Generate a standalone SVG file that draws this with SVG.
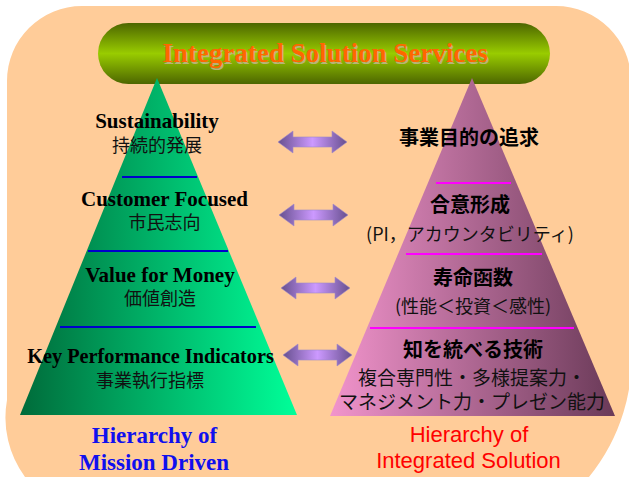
<svg xmlns="http://www.w3.org/2000/svg" width="629" height="477" viewBox="0 0 629 477">
  <defs>
    <linearGradient id="bannerGrad" x1="0" y1="0" x2="0" y2="1">
      <stop offset="0" stop-color="#4D6600"/>
      <stop offset="0.5" stop-color="#99CC00"/>
      <stop offset="1" stop-color="#4D6600"/>
    </linearGradient>
    <linearGradient id="greenGrad" x1="0" y1="0" x2="1" y2="0">
      <stop offset="0" stop-color="#006B3A"/>
      <stop offset="1" stop-color="#00FF99"/>
    </linearGradient>
    <linearGradient id="pinkGrad" x1="0" y1="0" x2="1" y2="0">
      <stop offset="0" stop-color="#F294CC"/>
      <stop offset="1" stop-color="#6A3A58"/>
    </linearGradient>
    <linearGradient id="arrowGrad" x1="0" y1="0" x2="1" y2="0">
      <stop offset="0" stop-color="#67508F"/>
      <stop offset="0.5" stop-color="#CC99FF"/>
      <stop offset="1" stop-color="#67508F"/>
    </linearGradient>
    <path id="dblArrow" d="M0,0 L15,-11 L15,-5 L54,-5 L54,-11 L69,0 L54,11 L54,5 L15,5 L15,11 Z"/>
  </defs>
  <style>
    .serifB { font-family: "Liberation Serif", "Times New Roman", serif; font-weight: bold; text-anchor: middle; }
    .jp { font-family: "Noto Sans CJK JP", "Noto Sans", sans-serif; text-anchor: middle; fill: #111; }
    .jpB { font-family: "Noto Sans CJK JP", "Noto Sans", sans-serif; font-weight: bold; text-anchor: middle; fill: #000; }
    .en { font-size: 21px; fill: #000; }
    .cap-red { font-family: "Liberation Sans", Arial, sans-serif; font-size: 22px; fill: #FF0000; text-anchor: middle; }
    .sep-blue { stroke: #0000CC; stroke-width: 2; }
    .sep-mag { stroke: #FF00FF; stroke-width: 2; }
    .arrow { fill: url(#arrowGrad); stroke: #A08CC8; stroke-width: 0.6; }
  </style>

  <!-- page background -->
  <path d="M82,6 H556 A75,75 0 0 1 631,81 V340 A190,190 0 0 1 589,477 V480 H25 V477 A100,100 0 0 1 7,400 V81 A75,75 0 0 1 82,6 Z" fill="#FFCC99"/>

  <!-- top banner -->
  <g id="banner">
    <rect x="98" y="23" width="452" height="61" rx="30.5" ry="30.5" fill="url(#bannerGrad)"/>
    <text x="326.5" y="63.5" class="serifB" font-size="27" fill="#C8B496" opacity="0.8">Integrated Solution Services</text>
    <text x="325" y="62" class="serifB" font-size="27" fill="#FF6600">Integrated Solution Services</text>
  </g>

  <!-- left pyramid -->
  <g id="mission-pyramid">
    <polygon points="157,78 20,415 297,415" fill="url(#greenGrad)"/>
    <line x1="122" y1="177" x2="197" y2="177" class="sep-blue"/>
    <line x1="88" y1="251" x2="228" y2="251" class="sep-blue"/>
    <line x1="60" y1="327" x2="256" y2="327" class="sep-blue"/>
  </g>
  <g id="sustainability">
    <text x="157" y="128" class="serifB en">Sustainability</text>
    <text x="157" y="152" class="jp" font-size="18">持続的発展</text>
  </g>
  <g id="customer-focused">
    <text x="164.5" y="206" class="serifB en">Customer Focused</text>
    <text x="164.5" y="229" class="jp" font-size="18">市民志向</text>
  </g>
  <g id="value-for-money">
    <text x="160" y="282" class="serifB en">Value for Money</text>
    <text x="160" y="305" class="jp" font-size="18">価値創造</text>
  </g>
  <g id="kpi">
    <text x="150.5" y="363" class="serifB" font-size="20.3">Key Performance Indicators</text>
    <text x="150" y="387" class="jp" font-size="18">事業執行指標</text>
  </g>
  <g id="mission-caption">
    <text x="154.5" y="443" class="serifB" font-size="23" fill="#1010EE">Hierarchy of</text>
    <text x="154" y="470" class="serifB" font-size="23" fill="#1010EE">Mission Driven</text>
  </g>

  <!-- right pyramid -->
  <g id="solution-pyramid">
    <polygon points="472,78 330,416 615,416" fill="url(#pinkGrad)"/>
    <line x1="436" y1="183" x2="511" y2="183" class="sep-mag"/>
    <line x1="406" y1="254" x2="542" y2="254" class="sep-mag"/>
    <line x1="370" y1="328" x2="574" y2="328" class="sep-mag"/>
  </g>
  <g id="business-purpose">
    <text x="469" y="145" class="jpB" font-size="20">事業目的の追求</text>
  </g>
  <g id="consensus">
    <text x="470" y="212" class="jpB" font-size="20">合意形成</text>
    <text x="470" y="241" class="jp" font-size="18">(PI，アカウンタビリティ)</text>
  </g>
  <g id="life-function">
    <text x="473" y="285" class="jpB" font-size="20">寿命函数</text>
    <text x="473" y="313" class="jp" font-size="18">(性能＜投資＜感性)</text>
  </g>
  <g id="knowledge">
    <text x="473" y="357" class="jpB" font-size="20">知を統べる技術</text>
    <text x="472" y="385" class="jp" font-size="19">複合専門性・多様提案力・</text>
    <text x="472" y="409" class="jp" font-size="19">マネジメント力・プレゼン能力</text>
  </g>
  <g id="solution-caption">
    <text x="469" y="442" class="cap-red">Hierarchy of</text>
    <text x="468.5" y="468" class="cap-red">Integrated Solution</text>
  </g>

  <!-- links between the two hierarchies -->
  <g id="connectors">
    <use href="#dblArrow" x="278" y="142" class="arrow"/>
    <use href="#dblArrow" x="279" y="215" class="arrow"/>
    <use href="#dblArrow" x="281" y="288" class="arrow"/>
    <use href="#dblArrow" x="283" y="355" class="arrow"/>
  </g>
</svg>
